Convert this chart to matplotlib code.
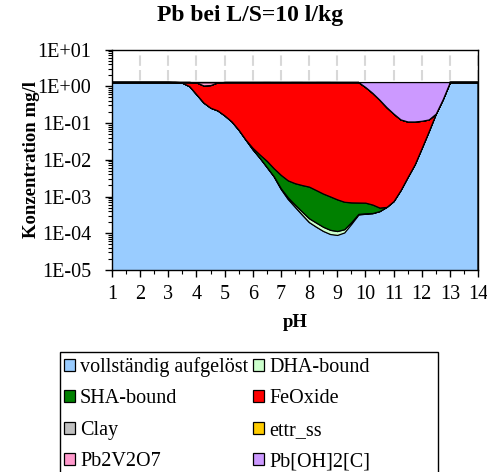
import numpy as np
import matplotlib
matplotlib.use("Agg")
import matplotlib.pyplot as plt
from matplotlib.patches import Rectangle
from matplotlib.ticker import FixedLocator, LogLocator, FuncFormatter, NullFormatter

plt.rcParams['font.family'] = ['Liberation Serif', 'DejaVu Serif']

# pH grid of the speciation run
ph = np.arange(1.0, 14.01, 0.25)

# Pb concentrations per binding form in mg/l
dissolved = [1.3, 1.3, 1.3, 1.3, 1.3, 1.3, 1.3, 1.3, 1.3, 1.29, 1.24, 1.0, 0.6, 0.36, 0.26, 0.22,
             0.16, 0.11, 0.065, 0.035, 0.019, 0.0112, 0.0063, 0.0035, 0.0016, 0.00085, 0.00052,
             0.00032, 0.0002, 0.00015, 0.000115, 0.000095, 0.00009, 0.000105, 0.00018, 0.00032,
             0.00034, 0.00035, 0.0004, 0.00052, 0.00075, 0.0015, 0.0034, 0.0075, 0.021, 0.06, 0.18,
             0.45, 1.3, 1.3, 1.3, 1.3, 1.3]
dha = [0, 0, 0, 0, 0, 0, 0, 0, 0, 0, 0, 0, 0, 0, 0, 0, 0, 0, 0, 0, 0, 0.000003, 0.00001, 0.00003,
       0.00006, 0.00009, 0.000078, 0.000068, 0.000055, 0.000045, 0.000035, 0.000029, 0.000025,
       0.000024, 0.000022, 0.000016, 0.00001, 0.000005, 0, 0, 0, 0, 0, 0, 0, 0, 0, 0, 0, 0, 0, 0, 0]
sha = [0, 0, 0, 0, 0, 0, 0, 0, 0, 0, 0, 0, 0, 0, 0, 0, 0, 0, 0, 0, 0.0019, 0.0026, 0.003, 0.0023,
       0.0022, 0.0018, 0.0017, 0.00166, 0.0016, 0.0013, 0.00105, 0.00088, 0.00072, 0.00059, 0.00049,
       0.00035, 0.00033, 0.00025, 0.0001, 0, 0, 0, 0, 0, 0, 0, 0, 0, 0, 0, 0, 0, 0]
feoxide = [0, 0, 0, 0, 0, 0, 0, 0, 0, 0.01, 0.06, 0.3, 0.67, 0.69, 0.82, 1.06, 1.14, 1.19, 1.235,
           1.265, 1.279, 1.286, 1.291, 1.294, 1.296, 1.297, 1.298, 1.298, 1.298, 1.2985, 1.299,
           1.299, 1.299, 1.299, 1.299, 1.299, 0.949, 0.659, 0.4295, 0.2695, 0.179, 0.1235, 0.1066,
           0.1025, 0.094, 0.065, 0, 0, 0, 0, 0, 0, 0]
clay = [0] * 53
ettr_ss = [0] * 53
pb2v2o7 = [0, 0, 0, 0, 0, 0, 0, 0, 0, 0, 0, 0, 0.03, 0.25, 0.22, 0.02, 0, 0, 0, 0, 0, 0, 0, 0, 0,
           0, 0, 0, 0, 0, 0, 0, 0, 0, 0, 0, 0, 0, 0, 0, 0, 0, 0, 0, 0, 0, 0, 0, 0, 0, 0, 0, 0]
pb_oh2_c = [0, 0, 0, 0, 0, 0, 0, 0, 0, 0, 0, 0, 0, 0, 0, 0, 0, 0, 0, 0, 0, 0, 0, 0, 0, 0, 0, 0, 0,
            0, 0, 0, 0, 0, 0, 0, 0.35, 0.64, 0.87, 1.03, 1.12, 1.175, 1.19, 1.19, 1.185, 1.175, 1.12,
            0.85, 0, 0, 0, 0, 0]

labels = ['vollständig aufgelöst', 'DHA-bound', 'SHA-bound', 'FeOxide', 'Clay', 'ettr_ss',
          'Pb2V2O7', 'Pb[OH]2[C]']
colours = ['#99CCFF', '#CCFFCC', '#008000', '#FF0000', '#C0C0C0', '#FFCC00', '#FF99CC', '#CC99FF']

fig = plt.figure(figsize=(4.87, 4.72), dpi=100)
ax = fig.add_axes([112 / 487, 1 - 270 / 472, 366 / 487, 220.5 / 472])
ax.set_yscale('log', nonpositive='clip')

series = [dissolved, dha, sha, feoxide, clay, ettr_ss, pb2v2o7, pb_oh2_c]
polys = ax.stackplot(ph, *series, labels=labels, colors=colours,
                     edgecolor='black', linewidth=0.9, zorder=2)

ax.set_xlim(1, 14)
ax.set_ylim(1e-5, 1e1)

# dashed vertical grid, only visible above the stacked areas
ax.xaxis.grid(True, color='#D8D8D8', linestyle=(0, (5, 2)), linewidth=1.5, zorder=0)
ax.set_axisbelow(True)

ax.xaxis.set_major_locator(FixedLocator(np.arange(1, 15)))
ax.xaxis.set_minor_locator(FixedLocator(np.arange(1.5, 14, 1.0)))
ax.yaxis.set_major_locator(LogLocator(base=10, numticks=10))
ax.yaxis.set_minor_locator(LogLocator(base=10, subs=np.arange(2, 10), numticks=20))
ax.yaxis.set_major_formatter(FuncFormatter(lambda v, pos: format(v, '.0E')))
ax.yaxis.set_minor_formatter(NullFormatter())

ax.tick_params(axis='both', which='major', direction='out', length=5, width=1, labelsize=14.5)
ax.tick_params(axis='x', which='major', pad=6)
ax.tick_params(axis='y', which='major', pad=10)
ax.tick_params(axis='both', which='minor', direction='out', length=3, width=0.8)
for s in ax.spines.values():
    s.set_linewidth(1)
    s.set_color('black')

ax.set_xlabel('pH', fontsize=13.5, fontweight='bold', labelpad=7)
ax.set_ylabel('Konzentration mg/l', fontsize=13.5, fontweight='bold', labelpad=-2)
fig.text(250 / 487, 1 - 16 / 472, 'Pb bei L/S=10 l/kg', ha='center', va='center',
         fontsize=17, fontweight='bold')

# legend filled row by row, box drawn separately so it can be wider than the entries
order = [0, 2, 4, 6, 1, 3, 5, 7]
leg = fig.legend([polys[i] for i in order], [labels[i] for i in order], ncol=2,
                 loc='upper left', bbox_to_anchor=(64 / 487, 1 - 357 / 472),
                 fontsize=14.5, frameon=False,
                 handlelength=0.55, handleheight=0.55, handletextpad=0.25,
                 columnspacing=0.25, labelspacing=0.62, borderpad=0, borderaxespad=0)
fig.add_artist(Rectangle((60 / 487, -0.02), 378 / 487, 0.02 + 1 - 352 / 472,
                         transform=fig.transFigure, fill=False, edgecolor='black',
                         linewidth=1, clip_on=False))

fig.savefig('out.png', dpi=100)
